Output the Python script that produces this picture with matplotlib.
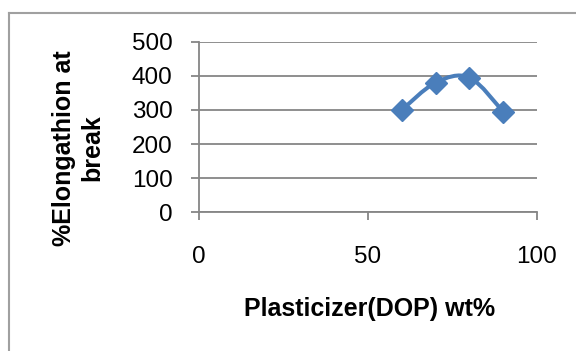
import matplotlib
matplotlib.use("Agg")
import matplotlib.pyplot as plt
from matplotlib.path import Path
from matplotlib.patches import PathPatch
from matplotlib.lines import Line2D
import numpy as np

# Data
dop_wt = [60, 70, 80, 90]
elongation = [300, 380, 395, 295]
x_ticks = [0, 50, 100]
y_ticks = [0, 100, 200, 300, 400, 500]
x_label = "Plasticizer(DOP) wt%"
y_label = "%Elongathion at\nbreak"

line_color = "#4A7EBB"
grid_color = "#868686"

fig = plt.figure(figsize=(5.76, 3.51), dpi=100)
ax = fig.add_axes([199/576, 1-212.3/351, (537-199)/576, (212.3-41.7)/351])

ax.set_xlim(0, 100)
ax.set_ylim(0, 500)
ax.set_xticks(x_ticks)
ax.set_yticks(y_ticks)

ax.yaxis.grid(True, color=grid_color, linewidth=1.3)
ax.set_axisbelow(True)
for s in ["top", "right"]:
    ax.spines[s].set_visible(False)
ax.spines["left"].set_color(grid_color)
ax.spines["bottom"].set_color(grid_color)
ax.spines["left"].set_linewidth(1.3)
ax.spines["bottom"].set_linewidth(1.3)
ax.tick_params(axis="y", direction="out", length=6, width=1.3, color=grid_color, pad=13,
               labelsize=17.5)
ax.tick_params(axis="x", direction="out", length=6, width=1.3, color=grid_color, pad=18,
               labelsize=17.5)
for lab in ax.get_xticklabels() + ax.get_yticklabels():
    lab.set_fontfamily(["Liberation Sans", "DejaVu Sans"])

# Smoothed line (Excel-style Bezier through data points)
pts = np.column_stack([dop_wt, elongation]).astype(float)
n = len(pts)
verts = [tuple(pts[0])]
codes = [Path.MOVETO]
for i in range(n - 1):
    p0 = pts[i - 1] if i > 0 else pts[i]
    p1 = pts[i]
    p2 = pts[i + 1]
    p3 = pts[i + 2] if i + 2 < n else pts[i + 1]
    c1 = p1 + (p2 - p0) / 6.0
    c2 = p2 - (p3 - p1) / 6.0
    verts += [tuple(c1), tuple(c2), tuple(p2)]
    codes += [Path.CURVE4] * 3
ax.add_patch(PathPatch(Path(verts, codes), facecolor="none", edgecolor=line_color,
                       linewidth=2.9, capstyle="round", joinstyle="round", zorder=3))
ax.plot(dop_wt, elongation, linestyle="none", marker="D", markersize=11,
        color=line_color, markeredgecolor=line_color, zorder=4, clip_on=False)

fig.text(370/576, 1-309/351, x_label, ha="center", va="center", fontsize=18,
         fontweight="bold", family=["Liberation Sans", "DejaVu Sans"])
fig.text(78/576, 1-148/351, y_label, ha="center", va="center", fontsize=18,
         fontweight="bold", rotation=90, linespacing=1.25,
         family=["Liberation Sans", "DejaVu Sans"])

# Outer frame (chart area border)
fig.add_artist(Line2D([9/576, 9/576], [0, 1-13/351], transform=fig.transFigure,
                      color="#a0a0a0", linewidth=1.5))
fig.add_artist(Line2D([9/576, 1], [1-13/351, 1-13/351], transform=fig.transFigure,
                      color="#a0a0a0", linewidth=1.5))

fig.savefig("out.png", dpi=100)
